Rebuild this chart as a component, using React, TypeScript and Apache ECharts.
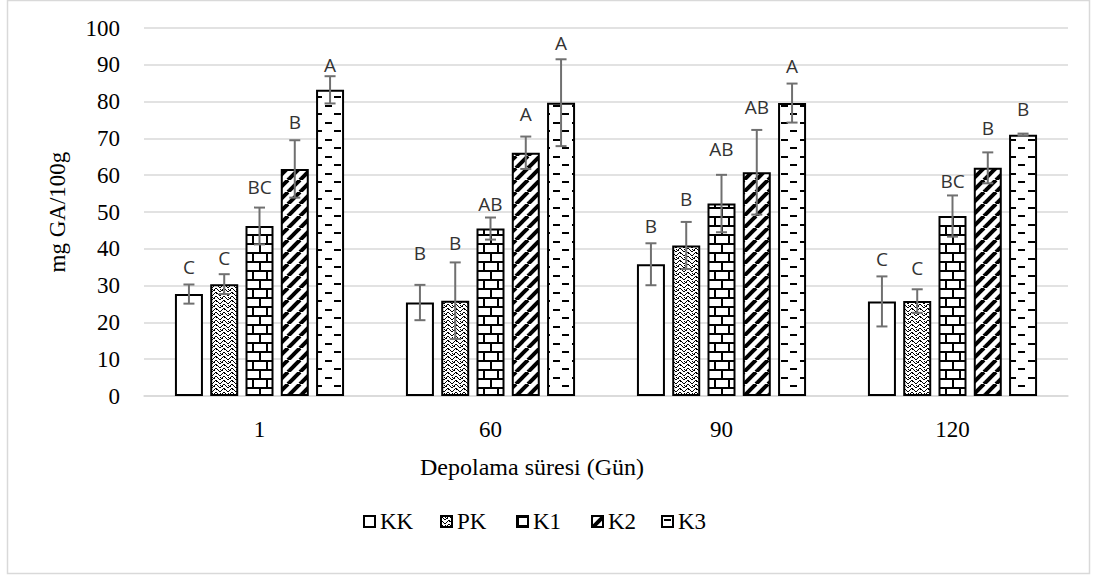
import React, { useEffect, useRef } from "react";
import * as echarts from "echarts";

const categories = ["1", "60", "90", "120"];
const seriesNames = ["KK", "PK", "K1", "K2", "K3"];

const kkValues = [27.7, 25.4, 35.8, 25.7];
const pkValues = [30.4, 25.9, 40.9, 25.8];
const k1Values = [46.2, 45.5, 52.3, 48.9];
const k2Values = [61.7, 66.1, 60.8, 62.0];
const k3Values = [83.2, 79.7, 79.6, 71.0];

const kkErrors = [2.6, 4.8, 5.7, 6.8];
const pkErrors = [2.7, 10.4, 6.4, 3.2];
const k1Errors = [5.0, 3.0, 7.8, 5.6];
const k2Errors = [7.8, 4.4, 11.5, 4.2];
const k3Errors = [3.7, 11.8, 5.3, 0.3];

const kkLetters = ["C", "B", "B", "C"];
const pkLetters = ["C", "B", "B", "C"];
const k1Letters = ["BC", "AB", "AB", "BC"];
const k2Letters = ["B", "A", "AB", "B"];
const k3Letters = ["A", "A", "A", "B"];

const kkLetterHeights = [35.0, 38.8, 46.3, 37.3];
const pkLetterHeights = [37.4, 41.5, 53.6, 34.9];
const k1LetterHeights = [56.9, 52.3, 67.1, 58.5];
const k2LetterHeights = [74.4, 76.7, 78.4, 72.9];
const k3LetterHeights = [89.9, 96.0, 89.7, 77.9];

const yTicks = { min: 0, max: 100, interval: 10 };

const BAR_W = 28;
const BAR_GAP = 0.26;
const STRIDE = BAR_W * (1 + BAR_GAP);
const LEGEND_LEFTS = [358, 435, 511, 586, 656];

function tile(w: number, h: number, draw: (c: CanvasRenderingContext2D) => void) {
  const cv = document.createElement("canvas");
  cv.width = w;
  cv.height = h;
  const c = cv.getContext("2d")!;
  c.fillStyle = "#fff";
  c.fillRect(0, 0, w, h);
  c.fillStyle = "#000";
  c.strokeStyle = "#000";
  draw(c);
  return { image: cv as any, repeat: "repeat", imageWidth: w, imageHeight: h } as any;
}

export default function App() {
  const ref = useRef<HTMLDivElement>(null);
  useEffect(() => {
    if (!ref.current) return;
    const chart = echarts.init(ref.current, undefined, { renderer: "svg" });

    const patterns = [
      "#ffffff",
      tile(8, 8, (c) => {
        for (let i = 0; i < 4; i++) {
          c.fillRect(i, i, 1, 1);
          c.fillRect(7 - i, i, 1, 1);
          c.fillRect(i, (i + 4) % 8, 1, 1);
          c.fillRect(7 - i, (i + 4) % 8, 1, 1);
        }
        c.fillRect(2, 6, 1, 1);
        c.fillRect(6, 2, 1, 1);
        c.fillRect(4, 1, 1, 1);
        c.fillRect(0, 5, 1, 1);
      }),
      tile(14, 18, (c) => {
        c.fillRect(0, 0, 14, 2);
        c.fillRect(0, 9, 14, 2);
        c.fillRect(0, 0, 2, 9);
        c.fillRect(7, 9, 2, 9);
      }),
      tile(12, 12, (c) => {
        c.lineWidth = 4;
        for (let k = -1; k <= 1; k++) {
          c.beginPath();
          c.moveTo(k * 12, 12);
          c.lineTo(k * 12 + 12, 0);
          c.stroke();
        }
      }),
      tile(19, 17, (c) => {
        c.fillRect(2, 3, 7, 2);
        c.fillRect(11, 11, 7, 2);
      }),
    ];

    const values = [kkValues, pkValues, k1Values, k2Values, k3Values];
    const errors = [kkErrors, pkErrors, k1Errors, k2Errors, k3Errors];
    const letters = [kkLetters, pkLetters, k1Letters, k2Letters, k3Letters];
    const letterHeights = [kkLetterHeights, pkLetterHeights, k1LetterHeights, k2LetterHeights, k3LetterHeights];

    const errData: number[][] = [];
    const errText: string[] = [];
    values.forEach((vals, bi) => {
      vals.forEach((v, ci) => {
        errData.push([ci, bi, v, errors[bi][ci], letterHeights[bi][ci]]);
        errText.push(letters[bi][ci]);
      });
    });

    const serif = "Liberation Serif";

    const barSeries = seriesNames.map((name, i) => ({
      name,
      type: "bar",
      data: values[i],
      barWidth: BAR_W,
      barGap: `${BAR_GAP * 100}%`,
      itemStyle: { color: patterns[i], borderColor: "#000", borderWidth: 2 },
      z: 2,
    }));

    const legends = seriesNames.map((name, i) => ({
      data: [name],
      left: LEGEND_LEFTS[i],
      top: 505,
      icon: "rect",
      itemWidth: 11,
      itemHeight: 11,
      textStyle: { fontFamily: serif, fontSize: 23, color: "#000" },
    }));

    chart.setOption({
      animation: false,
      backgroundColor: "#fff",
      grid: { left: 144, right: 26, top: 28, bottom: 183, containLabel: false },
      legend: legends,
      xAxis: {
        type: "category",
        data: categories,
        axisTick: { show: false },
        axisLine: { lineStyle: { color: "#d9d9d9", width: 1.5 } },
        axisLabel: { fontFamily: serif, fontSize: 23, color: "#000", margin: 22 },
      },
      yAxis: {
        type: "value",
        min: yTicks.min,
        max: yTicks.max,
        interval: yTicks.interval,
        name: "mg GA/100g",
        nameLocation: "middle",
        nameGap: 75,
        nameTextStyle: { fontFamily: serif, fontSize: 23, color: "#000" },
        axisLine: { show: false },
        axisTick: { show: false },
        axisLabel: { fontFamily: serif, fontSize: 23, color: "#000", margin: 24 },
        splitLine: { lineStyle: { color: "#d9d9d9", width: 1.5 } },
      },
      graphic: [
        {
          type: "rect",
          shape: { x: 7.5, y: 0.5, width: 1082, height: 573 },
          style: { fill: "none", stroke: "#d9d9d9", lineWidth: 1.5 },
          silent: true,
          z: -10,
        },
        {
          type: "text",
          x: 532,
          y: 467,
          style: {
            text: "Depolama süresi (Gün)",
            fontFamily: serif,
            fontSize: 24,
            fill: "#000",
            align: "center",
            verticalAlign: "middle",
          },
        },
      ],
      series: [
        ...barSeries,
        {
          name: "errors",
          type: "custom",
          data: errData,
          encode: { x: 0, y: 2 },
          z: 5,
          renderItem: (params: any, api: any) => {
            const ci = api.value(0);
            const bi = api.value(1);
            const v = api.value(2);
            const e = api.value(3);
            const ly = api.value(4);
            const base = api.coord([ci, v]);
            const x = base[0] + (bi - 2) * STRIDE;
            const yTop = api.coord([ci, v + e])[1];
            const yBot = api.coord([ci, v - e])[1];
            const yLab = api.coord([ci, ly])[1];
            const st = { stroke: "#707070", lineWidth: 2 };
            return {
              type: "group",
              children: [
                { type: "line", shape: { x1: x, y1: yTop, x2: x, y2: yBot }, style: st },
                { type: "line", shape: { x1: x - 5.5, y1: yTop, x2: x + 5.5, y2: yTop }, style: st },
                { type: "line", shape: { x1: x - 5.5, y1: yBot, x2: x + 5.5, y2: yBot }, style: st },
                {
                  type: "text",
                  x,
                  y: yLab,
                  style: {
                    text: errText[params.dataIndex],
                    fontFamily: "Open Sans",
                    fontSize: 19,
                    fill: "#333333",
                    align: "center",
                    verticalAlign: "middle",
                  },
                },
              ],
            };
          },
        },
      ],
    });
    return () => chart.dispose();
  }, []);
  return (
    <div
      ref={ref}
      style={{ position: "absolute", left: 0, top: 0, width: 1094, height: 579 }}
    />
  );
}
